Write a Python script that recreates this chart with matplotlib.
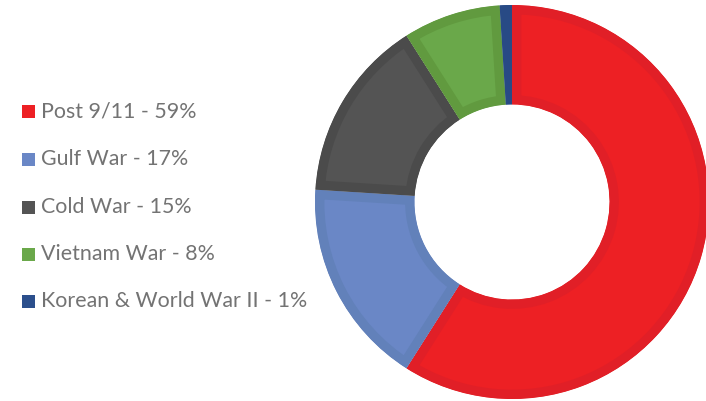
import matplotlib
matplotlib.use("Agg")
import matplotlib.pyplot as plt
from matplotlib.patches import Rectangle

categories = ["Post 9/11", "Gulf War", "Cold War", "Vietnam War", "Korean & World War II"]
values = [59, 17, 15, 8, 1]
face_colors = ["#ED2024", "#6A87C6", "#545454", "#6AA84A", "#2B4F8C"]
edge_colors = ["#E11F27", "#6281BA", "#4B4B4B", "#619A3F", "#284A85"]

W, H = 706, 401
fig = plt.figure(figsize=(W / 100, H / 100), dpi=100)
fig.patch.set_facecolor("white")

cx, cy, R = 512, 401 - 202, 197
ax = fig.add_axes([(cx - R) / W, (cy - R) / H, 2 * R / W, 2 * R / H])
wedges, _ = ax.pie(values, colors=face_colors, startangle=90, counterclock=False,
                   radius=1, wedgeprops=dict(width=0.505, linewidth=0))
for w, ec in zip(wedges, edge_colors):
    w.set_edgecolor(ec)
    w.set_linewidth(13.5)
    w.set_clip_on(True)
    w.set_clip_path(w)
ax.set_xlim(-1, 1)
ax.set_ylim(-1, 1)
ax.set_aspect("equal")
ax.axis("off")

ys = [111, 159, 207, 254, 301]
for lab, v, c, y in zip(categories, values, face_colors, ys):
    fig.patches.append(Rectangle((22 / W, (H - y - 7) / H), 13 / W, 13 / H,
                                 transform=fig.transFigure, facecolor=c,
                                 edgecolor="none"))
    fig.text(41 / W, (H - y) / H, f"{lab} - {v}%", fontsize=15.4, color="#737373",
             family="Lato", va="center", ha="left")

fig.savefig("out.png", dpi=100)
